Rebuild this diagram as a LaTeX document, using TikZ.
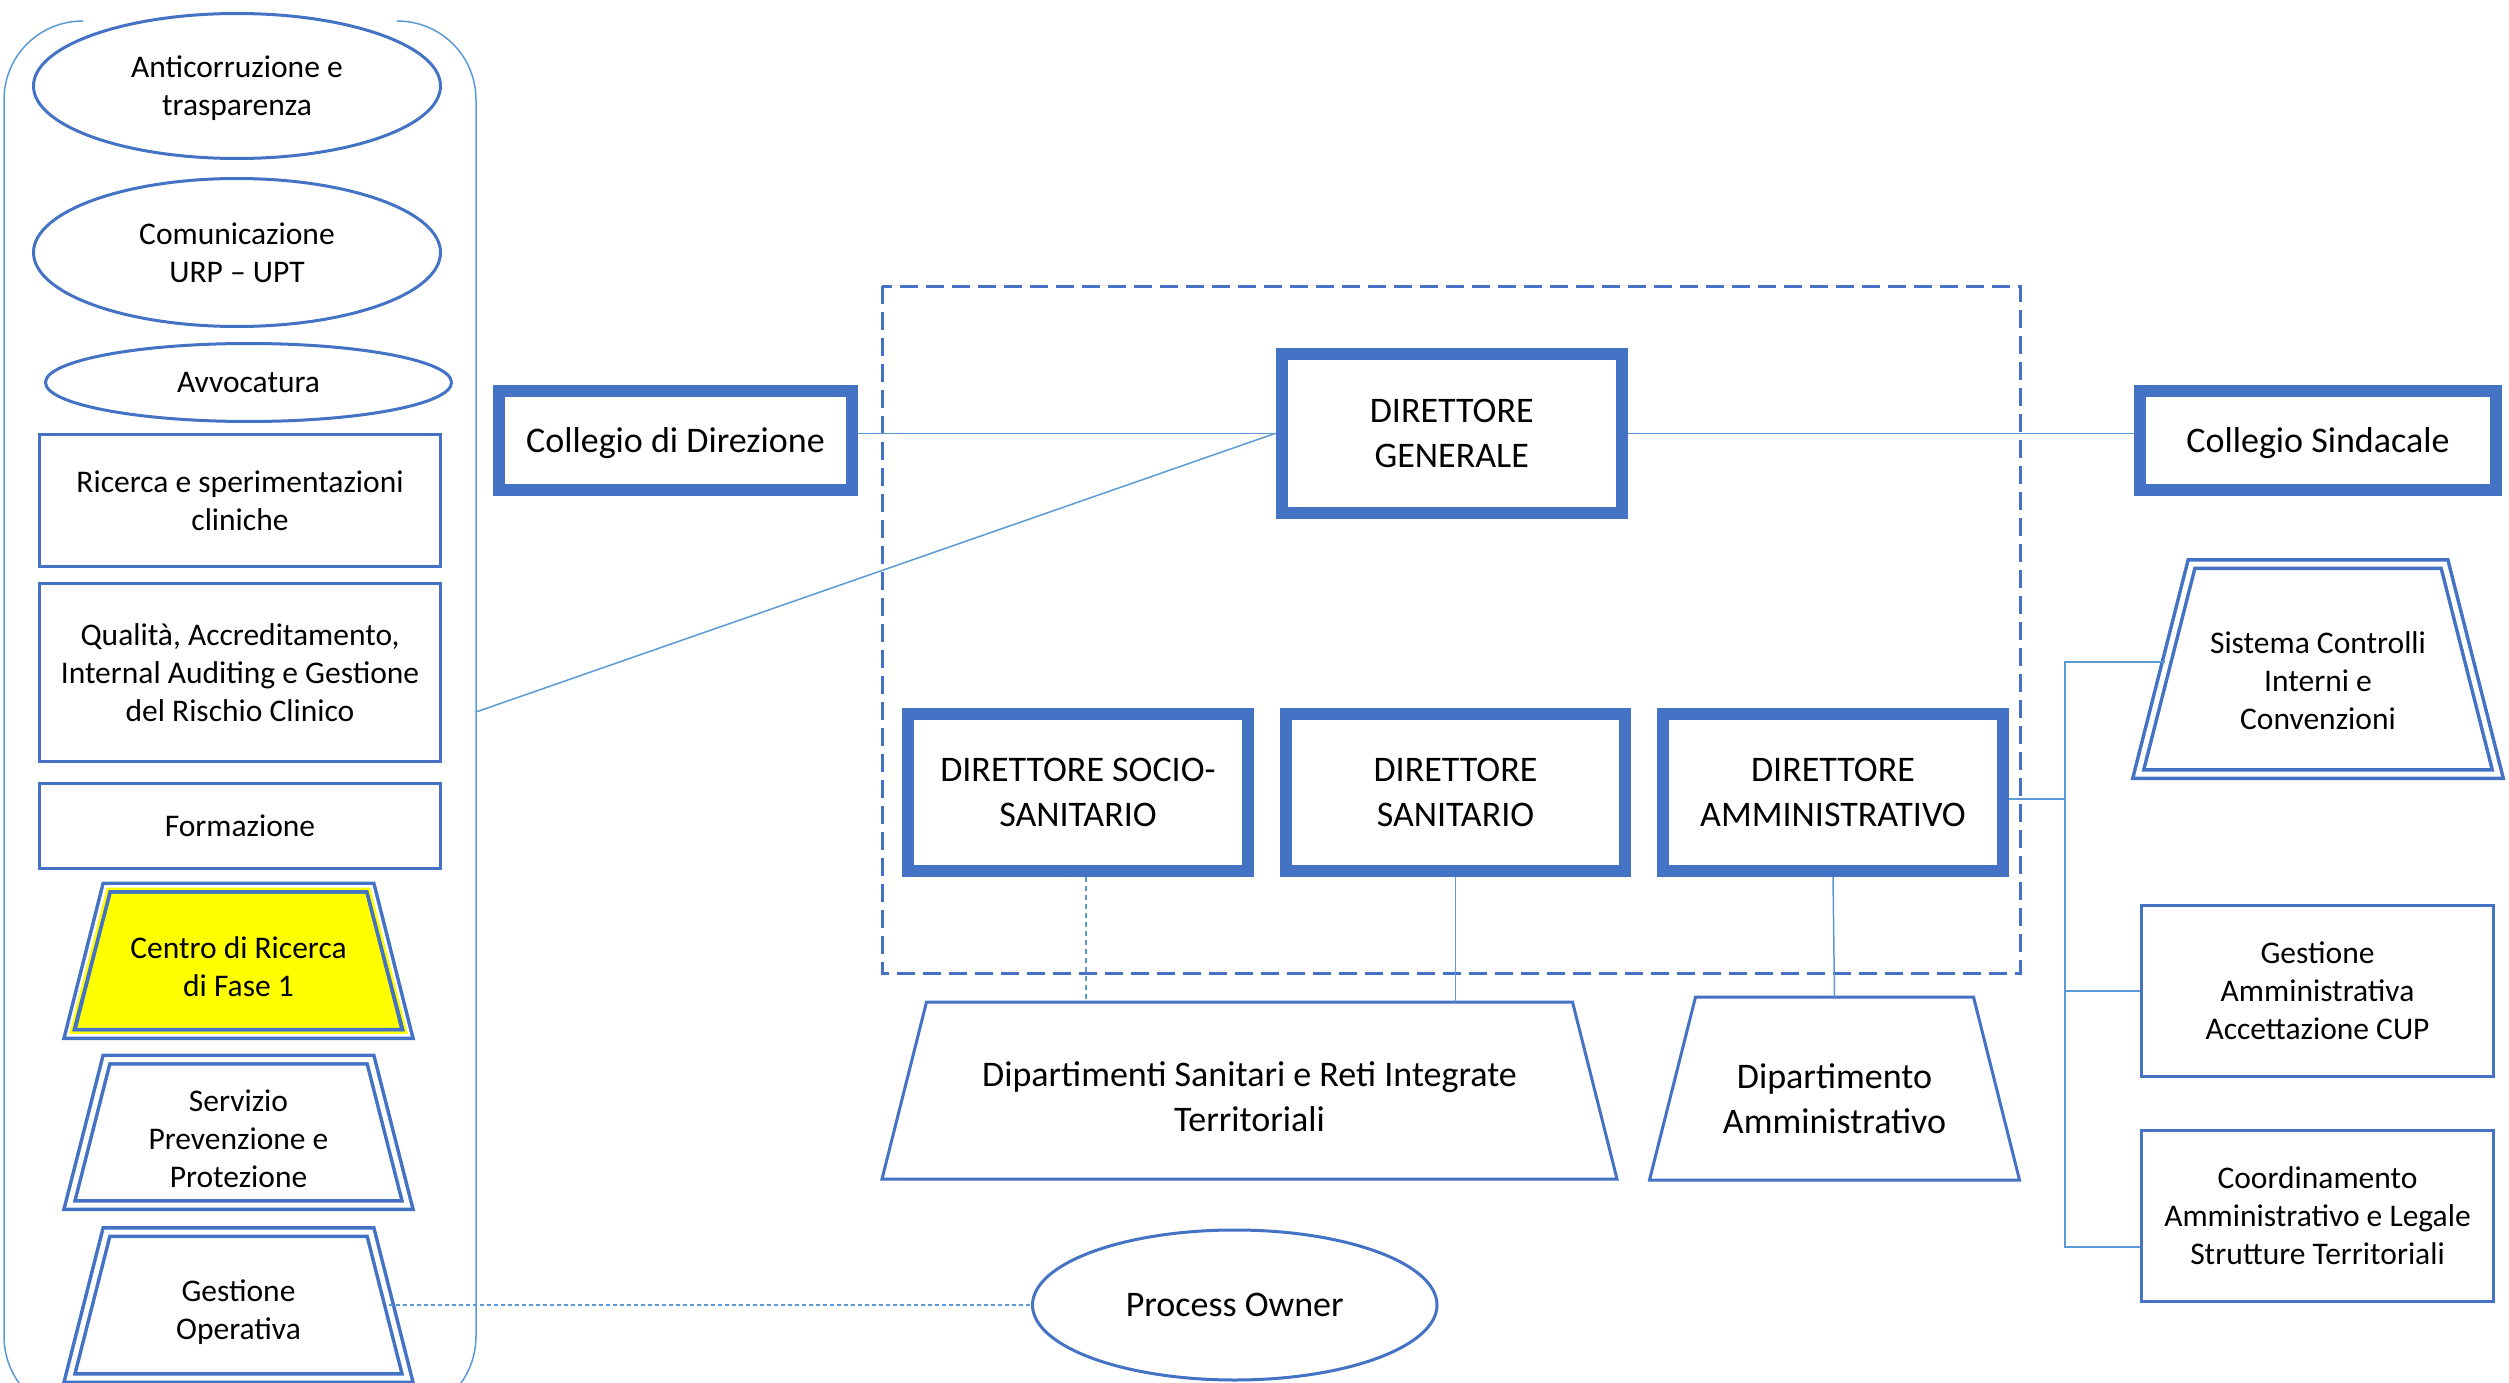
\documentclass[tikz,border=0pt]{standalone}
\usepackage{fontspec}
\setmainfont{Carlito}
\usetikzlibrary{shapes.geometric}
\definecolor{thickblue}{HTML}{4472C4}
\definecolor{linkblue}{HTML}{5B9BD5}
\definecolor{hlyellow}{HTML}{FFFF00}
% #1 name, #2 path style, #3 text style, #4 cx, #5 top y, #6 bottom y, #7 half top width, #8 half bottom width, #9 text
\newcommand\trapshape[9]{%
  \draw[#2] ({#4-#7},#5) -- ({#4+#7},#5) -- ({#4+#8},#6) -- ({#4-#8},#6) -- cycle;
  \coordinate (#1-n) at (#4,#5);
  \node[#3] (#1) at (#4,{(#5+#6)/2}) {#9};
}
\begin{document}
\begin{tikzpicture}[x=1pt,y=-1pt,
  smalltxt/.style={font=\fontsize{31.5}{38}\selectfont, align=center, text=black},
  largetxt/.style={font=\fontsize{36}{45}\selectfont, align=center, text=black},
  heavybox/.style={rectangle, draw=thickblue, line width=12pt, fill=white, inner sep=0pt, largetxt},
  lightbox/.style={rectangle, draw=thickblue, line width=3pt, fill=white, inner sep=0pt, smalltxt},
  oval/.style={ellipse, draw=thickblue, line width=3pt, fill=white, inner sep=0pt, smalltxt},
  dbl/.style={draw=thickblue, line width=3.5pt, double=white, double distance=5pt, line join=miter, fill=white},
  plaintrap/.style={draw=thickblue, line width=3pt, fill=white, line join=miter},
  link/.style={draw=linkblue, line width=1.5pt},
  frame/.style={draw=thickblue, line width=3pt, dash pattern=on 18pt off 8pt}
]
\useasboundingbox (0,0) rectangle (2509,1383);
\fill[white] (0,0) rectangle (2509,1383);

% left container
\begin{scope}
\clip (0,0) rectangle (2509,1383);
\draw[link] (83,21) .. controls (39,21) and (4,56) .. (4,100) -- (4,1336)
  .. controls (4,1380) and (39,1416) .. (83,1416) -- (397,1416)
  .. controls (441,1416) and (476,1380) .. (476,1336) -- (476,100)
  .. controls (476,56) and (441,21) .. (397,21);
\end{scope}
\coordinate (cont-r) at (476,712);

% dashed frame of the direction
\draw[frame] (882,286) rectangle (2020,973);

% left column
\node[oval, minimum width=407pt, minimum height=145pt, text depth=0pt] (e1) at (237,86) {Anticorruzione e\\trasparenza};
\node[oval, minimum width=407pt, minimum height=148pt] (e2) at (237,252.5) {Comunicazione\\URP – UPT};
\node[oval, minimum width=406pt, minimum height=78pt] (e3) at (248.5,382.5) {Avvocatura};
\node[lightbox, minimum width=401pt, minimum height=132pt] (r1) at (240,500.5) {Ricerca e sperimentazioni\\cliniche};
\node[lightbox, minimum width=401pt, minimum height=178pt] (r2) at (240,672.5) {Qualità, Accreditamento,\\Internal Auditing e Gestione\\del Rischio Clinico};
\node[lightbox, minimum width=401pt, minimum height=85pt] (r3) at (240,826) {Formazione};
\trapshape{cr}{dbl, fill=hlyellow}{inner sep=0pt}{238.5}{887.5}{1034}{132}{169}{}
\draw[hlyellow, line width=2.5pt, line join=miter] (107.8,888.8) -- (369.2,888.8) -- (406.2,1032.7) -- (70.8,1032.7) -- cycle;
\draw[thickblue, line width=3.5pt, line join=miter] (110.3,891.8) -- (366.7,891.8) -- (402.7,1029.7) -- (74.3,1029.7) -- cycle;
\node[smalltxt, yshift=-6pt] (cr-t) at (cr) {Centro di Ricerca\\di Fase 1};
\trapshape{sp}{dbl}{smalltxt, yshift=-7pt}{238.5}{1059.5}{1205}{132}{169}{Servizio\\Prevenzione e\\Protezione}
\trapshape{go}{dbl}{smalltxt, yshift=-7pt}{238.5}{1232}{1378}{132}{169}{Gestione\\Operativa}
\coordinate (go-e) at (389,1305);

% top row
\node[heavybox, minimum width=353pt, minimum height=99pt, text depth=0pt] (cd) at (675.5,440.5) {Collegio di Direzione};
\node[heavybox, minimum width=340.5pt, minimum height=158.6pt] (dg) at (1451.75,433.3) {DIRETTORE\\GENERALE};
\node[heavybox, minimum width=356pt, minimum height=99pt, text depth=0pt] (cs) at (2318,440.5) {Collegio Sindacale};

% directors
\node[heavybox, minimum width=340pt, minimum height=157.5pt] (dss) at (1078,792.25) {DIRETTORE SOCIO-\\SANITARIO};
\node[heavybox, minimum width=339pt, minimum height=157.5pt] (ds) at (1455.5,792.25) {DIRETTORE\\SANITARIO};
\node[heavybox, minimum width=340pt, minimum height=157.5pt] (da) at (1833,792.25) {DIRETTORE\\AMMINISTRATIVO};

% departments
\trapshape{dsr}{plaintrap}{largetxt, yshift=-6pt}{1249.5}{1002}{1179}{323}{367.5}{Dipartimenti Sanitari e Reti Integrate\\Territoriali}
\trapshape{dam}{plaintrap}{largetxt, yshift=-10pt}{1834.5}{997}{1180}{139}{185}{Dipartimento\\Amministrativo}

\node[ellipse, draw=thickblue, line width=3pt, fill=white, inner sep=0pt, largetxt, minimum width=404.5pt, minimum height=150pt] (po) at (1234.75,1305) {Process Owner};

% right column
\trapshape{sc}{dbl}{smalltxt, yshift=-12pt}{2318}{564}{774}{126.5}{179.75}{Sistema Controlli\\Interni e\\Convenzioni}
\coordinate (sc-w) at (2165,662);
\node[lightbox, minimum width=352pt, minimum height=171pt] (ga) at (2317.5,991) {Gestione\\Amministrativa\\Accettazione CUP};
\node[lightbox, minimum width=352pt, minimum height=171pt] (co) at (2317.5,1216) {Coordinamento\\Amministrativo e Legale\\Strutture Territoriali};

% connectors
\draw[link] (dg.west) -- (dg.west -| cd.east);
\draw[link] (dg.east) -- (dg.east -| cs.west);
\draw[link] (cont-r) -- (dg.west);
\draw[link, dash pattern=on 5pt off 4pt] ([xshift=8pt]dss.south) -- ([xshift=8pt]dss.south |- dsr-n);
\draw[link] (ds.south) -- (ds.south |- dsr-n);
\draw[link] (da.south) -- (dam-n);
\draw[link, dash pattern=on 4pt off 3pt] (go-e) -- (po.west);
\coordinate (bk-top) at (2065,662);
\coordinate (bk-da) at (2065,799);
\coordinate (bk-bot) at (2065,1247);
\draw[link] (sc-w) -- (bk-top) -- (bk-bot) -- (bk-bot -| co.west);
\draw[link] (bk-da -| da.east) -- (bk-da);
\draw[link] (bk-top |- ga.west) -- (ga.west);
\end{tikzpicture}
\end{document}
